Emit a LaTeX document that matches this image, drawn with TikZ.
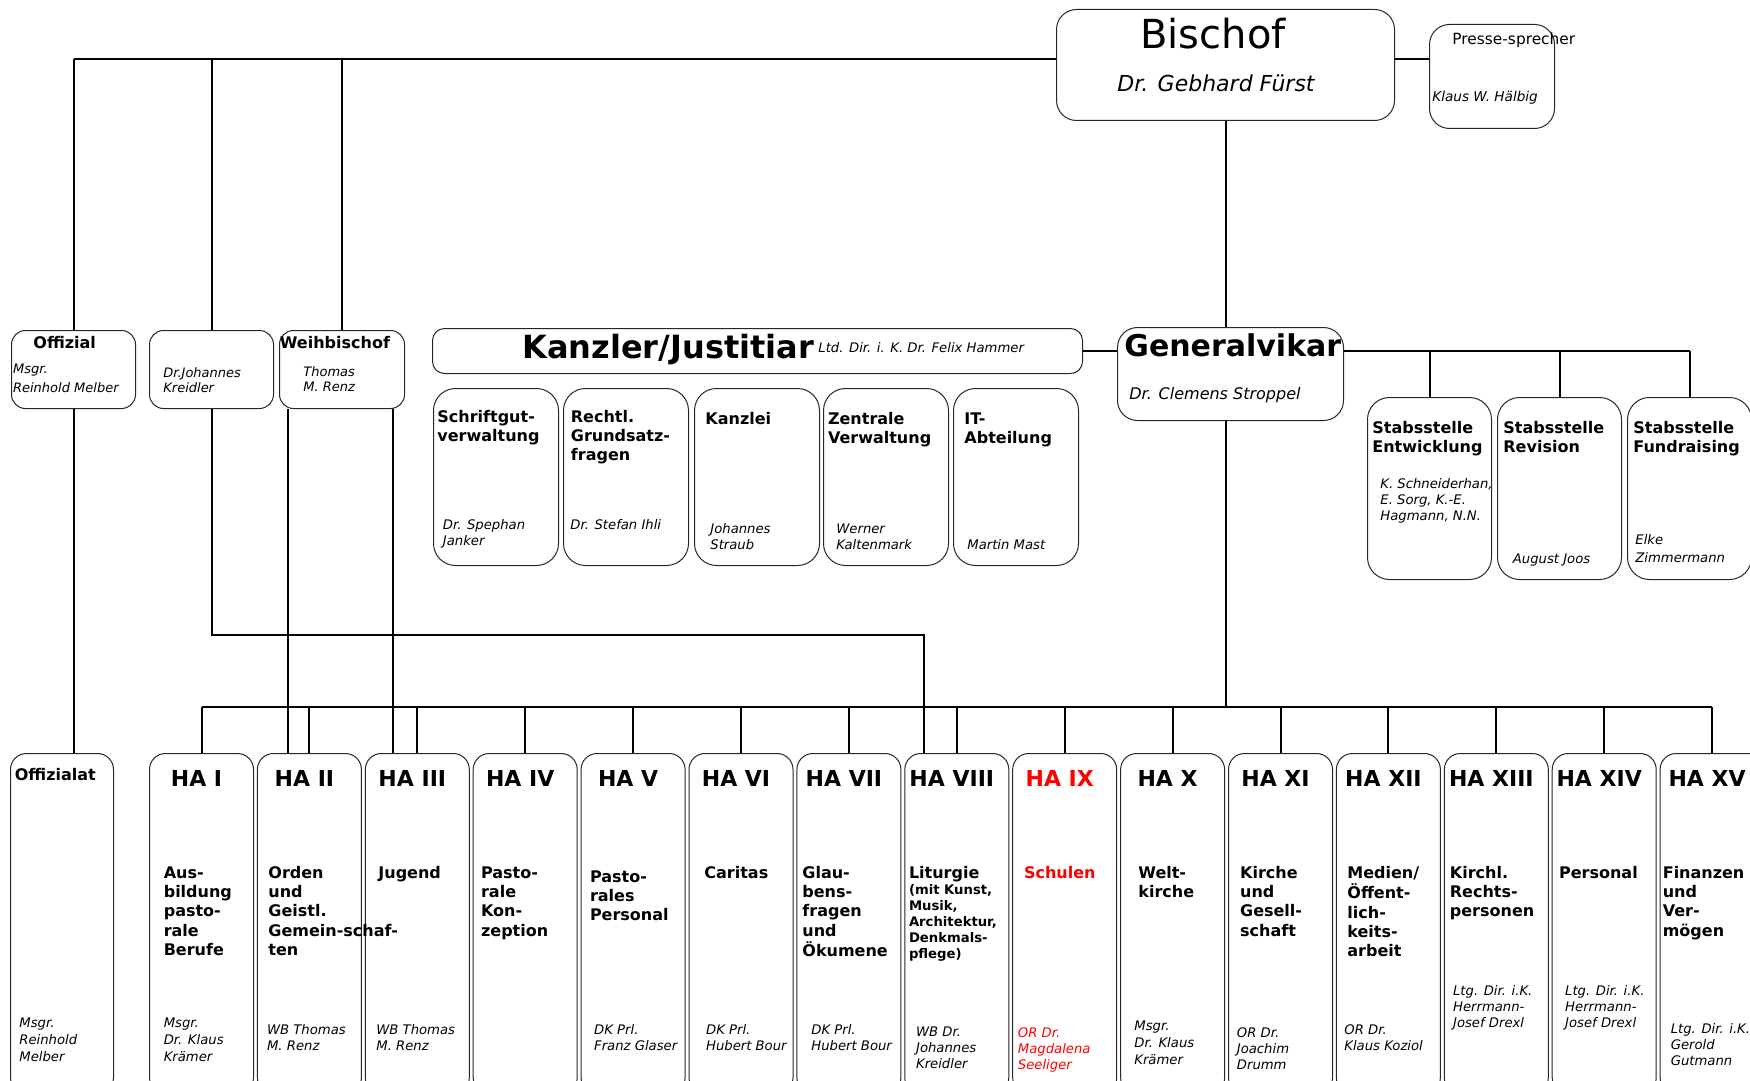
\documentclass[tikz,border=0pt]{standalone}
\usepackage{fontspec}
\setmainfont{DejaVu Sans}
\usetikzlibrary{calc}
\newcommand{\zeilen}[1]{\begin{tabular}[t]{@{}l@{}}#1\end{tabular}}

\begin{document}
\begin{tikzpicture}[x=0.5pt, y=-0.5pt,
		box/.style={draw=black!85, line width=0.5pt, rounded corners=#1, anchor=north west, inner sep=0pt},
		box/.default=8pt,
		conn/.style={line width=1pt},
		head/.style={font=\fontsize{8}{9.7}\selectfont\bfseries, anchor=base west, inner sep=0pt},
		who/.style={font=\fontsize{6.6}{8}\selectfont\itshape, anchor=base west, inner sep=0pt},
		hatitle/.style={font=\fontsize{11}{13}\selectfont\bfseries, anchor=base, inner sep=0pt}]
	\useasboundingbox (0,0) rectangle (1750,1081);
	% obere Ebene
	\node[box=10pt, minimum width=169pt, minimum height=55.5pt] (bischof) at (1056,9) {};
	\node[font=\fontsize{20}{24}\selectfont, anchor=base, inner sep=0pt] (bischofT) at (1213,49) {Bischof};
	\node[font=\fontsize{11}{13}\selectfont\itshape, anchor=base, inner sep=0pt] (bischofN) at (1216,91) {Dr. Gebhard Fürst};
	\node[box=10pt, minimum width=62.5pt, minimum height=52pt] (presse) at (1429,24) {};
	\node[font=\fontsize{7.7}{9}\selectfont, anchor=base west, inner sep=0pt] (presseT) at (1452,45) {Presse-sprecher};
	\node[who, font=\fontsize{6.8}{8}\selectfont\itshape] (presseN) at (1432,102) {Klaus W. Hälbig};
	\node[box=7pt, minimum width=62pt, minimum height=39pt] (offizial) at (11,330) {};
	\node[head, anchor=base] (offizialT) at (64.7,348) {Offizial};
	\node[who, font=\fontsize{6.5}{9.5}\selectfont\itshape] (offizialN) at (12.7,373) {\zeilen{Msgr.\\Reinhold Melber}};
	\node[box=7pt, minimum width=62pt, minimum height=39pt] (kreidler) at (149,330) {};
	\node[who, font=\fontsize{6.5}{7.8}\selectfont\itshape] (kreidlerN) at (163,377) {\zeilen{Dr.Johannes\\Kreidler}};
	\node[box=7pt, minimum width=62.5pt, minimum height=39pt] (weih) at (279,330) {};
	\node[head] (weihT) at (279.5,348) {Weihbischof};
	\node[who, font=\fontsize{6.5}{7.8}\selectfont\itshape] (weihN) at (303,376) {\zeilen{Thomas\\M. Renz}};
	% Kanzler und Generalvikar
	\node[box=6pt, minimum width=325pt, minimum height=22.5pt] (kanzler) at (432,328) {};
	\node[head, font=\fontsize{16}{19}\selectfont\bfseries] (kanzlerT) at (522,358) {Kanzler/Justitiar};
	\node[who] (kanzlerN) at (818,352) {Ltd. Dir. i. K. Dr. Felix Hammer};
	\node[box=10pt, minimum width=113pt, minimum height=46.5pt] (gv) at (1117,327) {};
	\node[head, font=\fontsize{15}{18}\selectfont\bfseries] (gvT) at (1124,356) {Generalvikar};
	\node[who, font=\fontsize{8}{10}\selectfont\itshape] (gvN) at (1129,399) {Dr. Clemens Stroppel};
	\foreach \n/\x in {s1/433, s2/563, s3/694, s4/823, s5/953}
		\node[box=11pt, minimum width=62.5pt, minimum height=88.5pt] (\n) at (\x,388) {};
	\node[head] (s1T) at (437,422) {\zeilen{Schriftgut-\\verwaltung}};
	\node[who, font=\fontsize{6.6}{8.3}\selectfont\itshape] (s1N) at (442.5,529) {\zeilen{Dr. Spephan\\Janker}};
	\node[head] (s2T) at (570.5,422) {\zeilen{Rechtl.\\Grundsatz-\\fragen}};
	\node[who] (s2N) at (570,529) {Dr. Stefan Ihli};
	\node[head] (s3T) at (705,424) {Kanzlei};
	\node[who] (s3N) at (710,533) {\zeilen{Johannes\\Straub}};
	\node[head] (s4T) at (827.6,424) {\zeilen{Zentrale\\Verwaltung}};
	\node[who] (s4N) at (836,533) {\zeilen{Werner\\Kaltenmark}};
	\node[head] (s5T) at (964,424) {\zeilen{IT-\\Abteilung}};
	\node[who] (s5N) at (967,549) {Martin Mast};
	\foreach \n/\x in {st1/1367, st2/1497, st3/1627}
		\node[box=11pt, minimum width=62pt, minimum height=91pt] (\n) at (\x,397) {};
	\node[head] (st1T) at (1372,433) {\zeilen{Stabsstelle\\Entwicklung}};
	\node[who] (st1N) at (1380,488) {\zeilen{K. Schneiderhan,\\E. Sorg, K.-E.\\Hagmann, N.N.}};
	\node[head] (st2T) at (1503,433) {\zeilen{Stabsstelle\\Revision}};
	\node[who] (st2N) at (1512.5,563) {August Joos};
	\node[head] (st3T) at (1633,433) {\zeilen{Stabsstelle\\Fundraising}};
	\node[who, font=\fontsize{6.6}{9}\selectfont\itshape] (st3N) at (1635,544) {\zeilen{Elke\\Zimmermann}};
	% Hauptabteilungen
	\node[box, minimum width=51.5pt, minimum height=170pt] (offizialat) at (10,753) {};
	\node[head] (offizialatT) at (14.5,780) {Offizialat};
	\node[who, font=\fontsize{6.6}{8.6}\selectfont\itshape] (offizialatN) at (19,1027) {\zeilen{Msgr.\\Reinhold\\Melber}};
	\foreach \i in {1,...,15}
		\node[box, minimum width=52pt, minimum height=170pt] (ha\i) at ({149+(\i-1)*107.9},753) {};
	\foreach \i/\r/\c in {1/I/black, 2/II/black, 3/III/black, 4/IV/black, 5/V/black, 6/VI/black, 7/VII/black, 8/VIII/black, 9/IX/red, 10/X/black, 11/XI/black, 12/XII/black, 13/XIII/black, 14/XIV/black, 15/XV/black}
		\node[hatitle, text=\c] (hat\i) at ($(ha\i.north)+(-5,33)$) {HA \r};
	\node[head] (had1) at (163.4,878) {\zeilen{Aus-\\bildung\\pasto-\\rale\\Berufe}};
	\node[head] (had2) at (268,878) {\zeilen{Orden\\und\\Geistl.\\Gemein-schaf-\\ten}};
	\node[head] (had3) at (378,878) {Jugend};
	\node[head] (had4) at (480.7,878) {\zeilen{Pasto-\\rale\\Kon-\\zeption}};
	\node[head] (had5) at (589.6,882) {\zeilen{Pasto-\\rales\\Personal}};
	\node[head] (had6) at (704,878) {Caritas};
	\node[head] (had7) at (802,878) {\zeilen{Glau-\\bens-\\fragen\\und\\Ökumene}};
	\node[head] (had8) at (908.6,878) {Liturgie};
	\node[head, font=\fontsize{6.6}{8}\selectfont\bfseries] (had8b) at (908.6,894) {\zeilen{(mit Kunst,\\Musik,\\Architektur,\\Denkmals-\\pflege)}};
	\node[head, text=red] (had9) at (1023.6,878) {Schulen};
	\node[head] (had10) at (1138,878) {\zeilen{Welt-\\kirche}};
	\node[head] (had11) at (1239.7,878) {\zeilen{Kirche\\und\\Gesell-\\schaft}};
	\node[head] (had12) at (1347,878) {\zeilen{Medien/\\Öffent-\\lich-\\keits-\\arbeit}};
	\node[head] (had13) at (1449.5,878) {\zeilen{Kirchl.\\Rechts-\\personen}};
	\node[head] (had14) at (1558.7,878) {Personal};
	\node[head] (had15) at (1662.4,878) {\zeilen{Finanzen\\und\\Ver-\\mögen}};
	\node[who, font=\fontsize{6.6}{8.6}\selectfont\itshape] (han1) at (163.4,1027) {\zeilen{Msgr.\\Dr. Klaus\\Krämer}};
	\node[who] (han2) at (266.7,1034) {\zeilen{WB Thomas\\M. Renz}};
	\node[who] (han3) at (376,1034) {\zeilen{WB Thomas\\M. Renz}};
	\node[who] (han5) at (593.8,1034) {\zeilen{DK Prl.\\Franz Glaser}};
	\node[who] (han6) at (705.7,1034) {\zeilen{DK Prl.\\Hubert Bour}};
	\node[who] (han7) at (811,1034) {\zeilen{DK Prl.\\Hubert Bour}};
	\node[who] (han8) at (915.7,1036) {\zeilen{WB Dr.\\Johannes\\Kreidler}};
	\node[who, text=red] (han9) at (1017.5,1037) {\zeilen{OR Dr.\\Magdalena\\Seeliger}};
	\node[who, font=\fontsize{6.6}{8.6}\selectfont\itshape] (han10) at (1134,1030) {\zeilen{Msgr.\\Dr. Klaus\\Krämer}};
	\node[who] (han11) at (1236.5,1037) {\zeilen{OR Dr.\\Joachim\\Drumm}};
	\node[who] (han12) at (1344,1034) {\zeilen{OR Dr.\\Klaus Koziol}};
	\node[who] (han13) at (1452.7,995) {\zeilen{Ltg. Dir. i.K.\\Herrmann-\\Josef Drexl}};
	\node[who] (han14) at (1564.8,995) {\zeilen{Ltg. Dir. i.K.\\Herrmann-\\Josef Drexl}};
	\node[who] (han15) at (1670.4,1033) {\zeilen{Ltg. Dir. i.K.\\Gerold\\Gutmann}};
	% Verbindungen
	\coordinate (topline) at (0,59);
	\coordinate (habar) at (0,707);
	\draw[conn] (offizial.north |- topline) -- (bischof.west |- topline);
	\foreach \n in {offizial, kreidler, weih}
		\draw[conn] (\n.north) -- (\n.north |- topline);
	\draw[conn] (bischof.east |- topline) -- (presse.west |- topline);
	\draw[conn] (bischof.south) -- (bischof.south |- gv.north);
	\draw[conn] (bischof.south |- gv.south) -- (bischof.south |- habar);
	\draw[conn] (kanzler.east) -- (gv.west |- kanzler.east);
	\draw[conn] (gv.east |- kanzler.east) -- (st3.north |- kanzler.east);
	\foreach \n in {st1, st2, st3}
		\draw[conn] (\n.north) -- (\n.north |- kanzler.east);
	\draw[conn] (offizial.south) -- (offizial.south |- offizialat.north);
	\coordinate (weihA) at ($(weih.south west)+(8.8,0)$);
	\coordinate (weihB) at ($(weih.south east)+(-12.5,0)$);
	\draw[conn] (weihA) -- (weihA |- ha2.north);
	\draw[conn] (weihB) -- (weihB |- ha3.north);
	\coordinate (kreidlerK) at (923.6,635);
	\draw[conn] (kreidler.south) |- (kreidlerK) -- (kreidlerK |- ha8.north);
	\draw[conn] (ha1.north |- habar) -- (ha15.north |- habar);
	\foreach \i in {1,...,15}
		\draw[conn] (ha\i.north) -- (ha\i.north |- habar);
\end{tikzpicture}
\end{document}
